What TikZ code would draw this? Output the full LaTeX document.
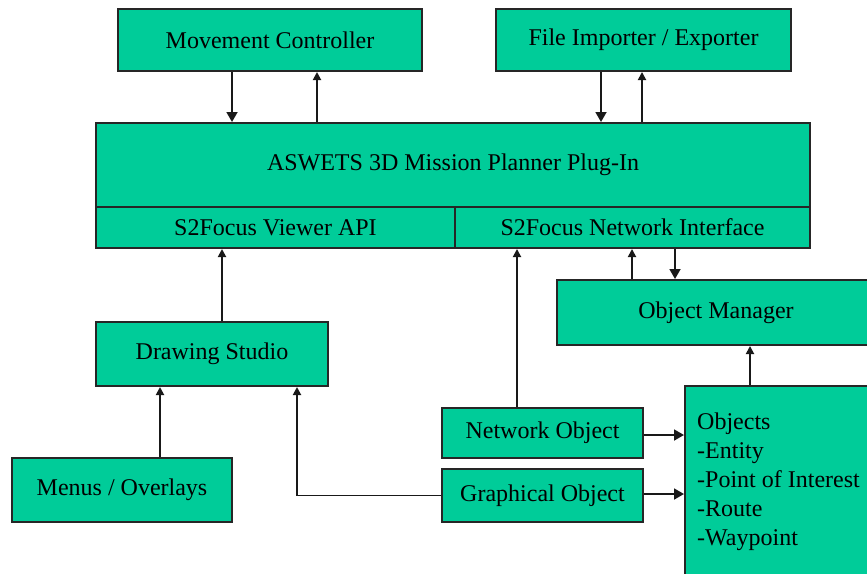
\documentclass[tikz,border=0pt]{standalone}
\usepackage{fontspec}
\setmainfont{Liberation Serif}
\usepackage{tikz}
\usepackage{xcolor}
\usetikzlibrary{arrows.meta}
\definecolor{boxgreen}{RGB}{0,204,153}
\tikzset{
    green-box/.style = {draw=black!85, fill=boxgreen, line width=2pt, rectangle, inner sep=0pt, font=\fontsize{24}{29}\selectfont},
    list-box/.style = {green-box, anchor=north west},
    link/.style = {-{Triangle[length=10pt,width=11pt]}, line width=1.8pt, black!90},
    link-up/.style = {-{Triangle[length=8pt,width=8pt]}, line width=1.8pt, black!90},
}

\begin{document}
\begin{tikzpicture}[x=1pt, y=-1pt]
\clip (0,0) rectangle (867,573);
% top row
\node [green-box, minimum width=304pt, minimum height=62pt] (mover) at (270,40) {Movement Controller};
\node [green-box, minimum width=295pt, minimum height=62pt] (importer) at (643.5,40) {File Importer / Exporter};
% plug-in with its two interfaces
\node [green-box, minimum width=714pt, minimum height=84pt] (plugin) at (453,165) {\raisebox{-3pt}{ASWETS 3D Mission Planner Plug-In}};
\node [green-box, minimum width=359pt, minimum height=41pt] (viewer-api) at (275.5,227.5) {S2Focus Viewer API};
\node [green-box, minimum width=355pt, minimum height=41pt] (net-iface) at (632.5,227.5) {S2Focus Network Interface};
% lower part
\node [green-box, minimum width=318pt, minimum height=65pt] (obj-manager) at (716,312.5) {Object Manager};
\node [green-box, minimum width=232pt, minimum height=64pt] (studio) at (212,354) {Drawing Studio};
\node [green-box, minimum width=220pt, minimum height=64pt] (menus) at (122,490) {Menus / Overlays};
\node [green-box, minimum width=201pt, minimum height=50pt] (net-obj) at (542.5,433) {Network Object};
\node [green-box, minimum width=201pt, minimum height=53pt] (graph-obj) at (542.5,495.5) {Graphical Object};
\node [list-box, minimum width=200pt, minimum height=210pt] (objects) at (684,385) {};
\node [anchor=north west, align=left, inner sep=0pt, font=\fontsize{24}{29}\selectfont] (objects-text) at (697,413) {Objects\\-Entity\\-Point of Interest\\-Route\\-Waypoint};

% connectors
\draw [link] ([xshift=-38pt]mover.south) -- ([xshift=-38pt]mover.south |- plugin.north);
\draw [link-up] ([xshift=47pt]mover.south |- plugin.north) -- ([xshift=47pt]mover.south);
\draw [link] ([xshift=-42.5pt]importer.south) -- ([xshift=-42.5pt]importer.south |- plugin.north);
\draw [link-up] ([xshift=-1.5pt]importer.south |- plugin.north) -- ([xshift=-1.5pt]importer.south);
\draw [link-up] ([xshift=-84pt]obj-manager.north) -- ([xshift=-84pt]obj-manager.north |- net-iface.south);
\draw [link] ([xshift=-41pt]obj-manager.north |- net-iface.south) -- ([xshift=-41pt]obj-manager.north);
\draw [link-up] ([xshift=10pt]studio.north) -- ([xshift=10pt]studio.north |- viewer-api.south);
\draw [link-up] ([xshift=38pt]menus.north) -- ([xshift=38pt]menus.north |- studio.south);
\draw [link-up] ([xshift=-25.5pt]net-obj.north) -- ([xshift=-25.5pt]net-obj.north |- net-iface.south);
\draw [link-up] (graph-obj.west) -| ([xshift=85pt]studio.south);
\draw [link] ([yshift=-2pt]net-obj.east) -- ([yshift=-2pt]net-obj.east -| objects.west);
\draw [link] ([yshift=1.5pt]graph-obj.east) -- ([yshift=1.5pt]graph-obj.east -| objects.west);
\draw [link-up] (objects.north -| 750,0) -- (obj-manager.south -| 750,0);
\end{tikzpicture}
\end{document}
